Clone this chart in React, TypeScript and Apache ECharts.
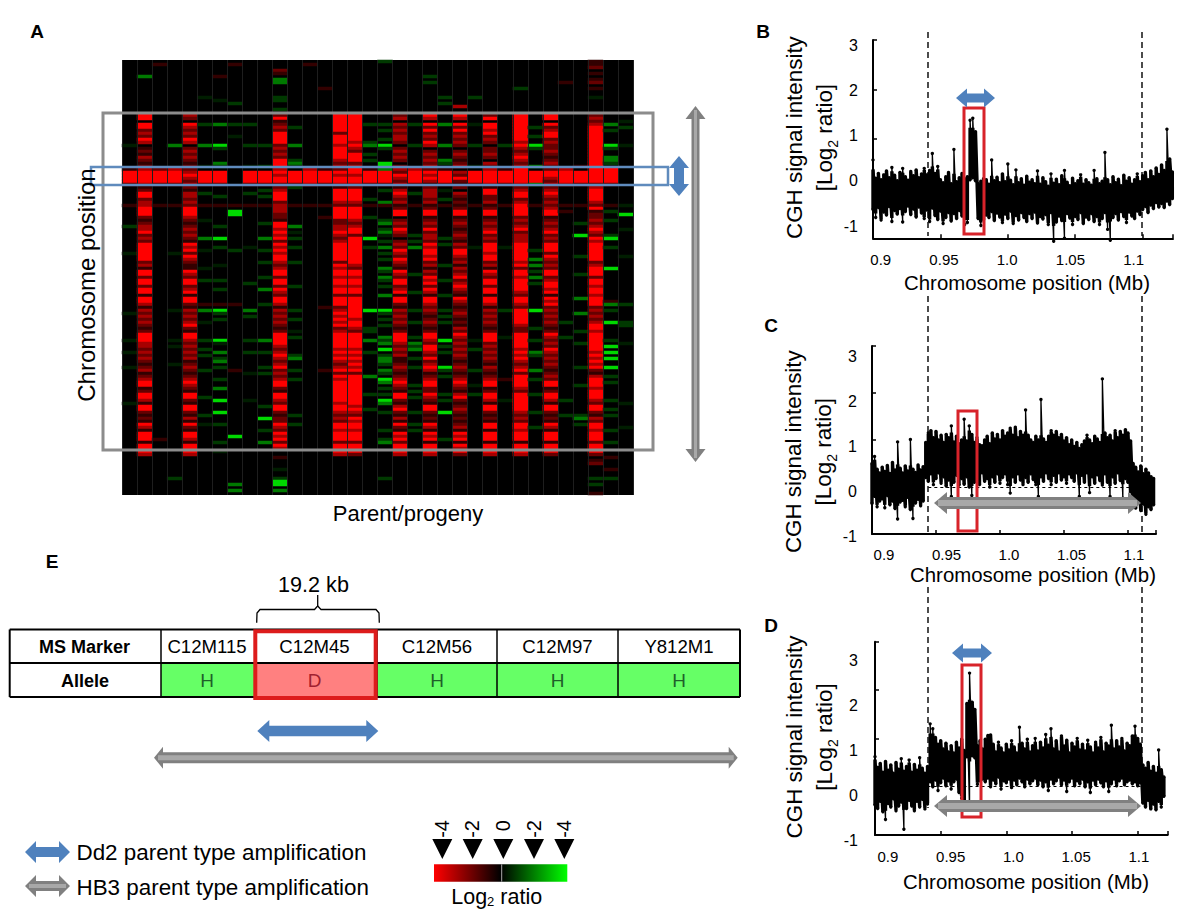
import React, { useEffect, useRef } from "react";
import * as echarts from "echarts";

// ---------- Panel A: one string per column, groups of ten rows, "." group = blank ----------
const heatLevels: Record<string, number> = { ".": 0, a: 0.8, b: 1.6, c: 2.6, R: 4, i: -0.45, g: -0.9, h: -1.9, G: -3.4 };
const heatColumns = [
  ". . ........i. ......aRRR Rb......a. .....g.... ....i..... . ....i..... ...i...i.. ..i....... ....i.....",
  ".....h.... ........RR .RRbcbRc.a bacbabcRRR RcabRRbccR RRbabccRbc bRRRRRRbca RRbRRbRRaR Rcacbcbcba bRRRccbcbc babcabcRRa bRRcaRRbab aRcaRRRaRR Rc........",
  ".a........ . . ......bRRR Rb......a. . . . . . . . ......a...",
  ". . ........h. ......cRRR Rb......a. . ....i..... . ...i...... ...i.i.... .i........ . . .........g",
  ". ........cb .RcbcbRc.b cbcbabbcRc bcbaccbcbR RRcbabcbcb aRcRbRcbaa RcbRRbcRaR RbacbcbcRb aRRcbcbcbc abcbabcRcb aRRbaRRbac aRbaRRcaRR Rc........",
  ". ..i....... .g......h. .....i.RRR Rb..g...a. ...i.....h ...i.....i ...g...... .a.h...i.. ...g..g.g. ...g...... ..g.....g. .i........",
  ".....a.... ...i...... .h......Gg ....hg.RRR Rb...g..a. .....g...G ..g.....i. ...g..g... .a.Gg.g... ...Gi..h.g h.g...g..h ...G...G.. .g.....g.. i.........",
  ".a........ ....g..... .g...i.... . ........a. GG........ ...g...... . .a........ . ...a...... . .....G.... . .h.h.",
  ". . .g......g. .....i.RRR Rb..g...a. . ..i....... ....g..... ...h.g.... ...g...g.. ....i..... ...i......",
  ". . ........g. .....g.RRR Rb.g.g..a. ....g....h ...g...g.. ..g...h... .g........ ...h...g.. ..g.g..... .....g...G ...g...h..",
  "...ba.hh.. ..gg..g.bR abcbRRRRbc bcbRRRcRcR RbbcRRRbcc cbbaRRcRcR bRcRcRRcbc RRbRRbRcbR Rcacbcbcba bRRRRcbcRc bcRbcbcRRb aRRcbRRbab bRcbRcRbRc ..a...i..g GG.h.",
  ". . ..g.....h. ...ghg.RRR Rbg.....a. .....h.i.g ..g....g.. .....g.... ...g..g... i.g.....gh ...g..g... ........g. .g........",
  ".a........ . . ......cRRR Rc......a.",
  ".........a . . ......aRRR Rb......a. ..a....... . . ..a....... . ...a......",
  ". ........RR RRRRbRRRcR RRRcbcbRcR RcaRRRRcbR RRRbbccRcb cRRRRRRbRc RRcRRcRRbR RRbcRcRcRb cRRRRRcRcR cbcRbRcRRR RRRRcRRcbc bRRcRRRbRR Rc........",
  ". ........RR RRRRRRRcRc bRRRbcRRcR RcbRRRRcbR RRRcbcRRbR RRRRRRRRcb RRcRRcRRbR RRRRRRcRRc bRRRRRcRcR cRcRbRRRRR RRRRRcRcbR cRRcRRRbRR Rb........",
  ". . .g.....gh. .g.g..aRRR Rb....g.a. ..g......G ..g....... . ...G.....g g..h...g.. .....h.... .g....g...",
  "g......... . .g.g..g.Gg ....GGhRRR Rb.g...ha. ...gh.ghi. g.h.g.g..h g.hg.g..h. ...Gg.g.g. ..hgh.G.gh hg.hg.Gh.g .g.Gh..g.. ...g..gh.. .........g",
  ". ........bc .cbcbccb.b cbcb.bcbRc bcacRcbcab RR.bcbRcb. bcbRcbRcba RcbRRbcRaR Rbacbcbcba bRRRcbcbca abcbabcRcb aRRbacRbac aRbaRcRbRR Rc........",
  ". . .g......g. ......cRRR Rb..g...a. ........g. g.h....... .g.....g.. ...g...g.. ..g.hgh..g ..g.....g. g.g....g.. .g.g......",
  ".....g.g.. ........Rc .RbRbcbRc. bcbcbcbRcR cabcccbcab RRabcbRbcc bRcRRcRbca cbRcRbRcaR Rcbcbabcba bRRcbRRcbR bcRcabcRRb bRcbaRRbab aRcaRcRaRR Rc........",
  ". ..g.g..... .h......h. ...hg.aRRR Rb.i..g.a. .........g .g......g. ...g....g. ...g.g.g.. ...G.g.g.. ..Gg.g.... .g.g...G.. ......g...",
  ". .....c..Rc .RbRbcbcb. bcbabc.cbR bab.cbabab RRabcbabcb acbRRcbcac bcRbcRcbaR cbabcbabac bRcbcbcbcb abcbabcRcb acRbabcbab abcaRcRaRc Rb........",
  ". ..g....... .i......g. .....i.RRR Rb......a. . ..i....... . . ...i..g... ...g....i. .g........",
  ". ........bR .RRcRbcb.b bcb.cbcRRR RcaRRbbcab RRabcbcRbc bRRRcRRbca RcbRRbRRaR Rcacbcbcba bRRRbcbcbc bacbabcRRa bRRcaRRbab aRRaRRRaRR Rc........",
  ". . ........g. ......aRRR Rb......a. . ..i....... . ...g...... ..i....... ......a... ...i......",
  ".........g ........RR RRRRRRRcRc bcRcbcRRRR RcbcRRbcRR RRbcbcRbcc cRRRRRRcRb RRcRRRRcbR RcbRRRRRcb bRRRRRcRcR cbcRbRRRRc bRRRRRRcbc bRRcRRRaRR Rc........",
  ". . ..g..g..Gg .....h.RRR Rh......a. . ...g..h.h. g.h.g..... ...G.....g ...g...hg. ...h..g... .g.....g.. ..g.......",
  ". ........RR .RbcRRbcbb cbabcbbRRc bcbcRcbcbc RRabcbcRbc bRRRbRcbcb RRbcRRcRaR cRbcbcbcba bRcbcbRcbc bcbabcbRRa bRRcaRRbab aRcaRRRaRR Rb........",
  ".......a.. . . ......cRRR Rc......a. a......... . . .......g.. ..g....... . ...g....g.",
  ". . . .....a.RRR Rb......a. ....g...G. .....g.... .g.......h ....h..... g...g..... ..g.....g. ........gh .g........",
  "aab.a.ab.a ..i.....bc bcRRRRRRRR RRRRRRRRRR RbcRRRRcbR abbcbcRcbR cRRRRRRbcR RRbRRcRRcR RRbcbcbcRR cRRRRRRcRc RcRbacRRRc RRRcbRRbac bRRcRRRbRR Rb.ab....g .g..a",
  ". . .h.g....Gg ..hhg.RRRR Rb......a. g..g....gG ..g......G . ah.g...G.. ...g.G.G.G ..G..g.g.. ...g..g.g. ...g...g.. ..a...a..g",
  ". . i.g.....i. . ........i. .G....i... .....i.... . .g.....gg. ....i..... . ....i..... ..i.......",
];

// ---------- Panels B, C, D: read upper and lower edge of the dense signal band ----------
const xTickLabels = ["0.9", "0.95", "1.0", "1.05", "1.1"];
const xTickValues = [0.9, 0.95, 1.0, 1.05, 1.1];
const yTickValues = [-1, 0, 1, 2, 3];

const panelBHigh = [
  0.58, 0.21, 0.31, 0.18, 0.28, 0.36, 0.22, 0.43, 0.27, 0.16, 0.33, 0.41, 0.24, 0.17, 0.35, 0.26, 0.38, 0.22, 0.3, 0.41,
  0.28, 0.37, 0.71, 0.31, 0.45, 0.18, 0.12, 0.24, 0.33, 0.1, 0.79, 0.14, 0.22, 0.31, 0.2, 0.24, 1.38, 1.42, 1.15, 0.1,
  0.15, 0.2, 0.18, 0.09, 0.58, 0.16, 0.23, 0.12, 0.3, 0.14, 0.5, 0.17, 0.08, 0.38, 0.12, 0.2, 0.07, 0.25, 0.13, 0.18,
  0.1, 0.36, 0.09, 0.22, 0.14, 0.05, 0.3, 0.11, 0.19, 0.08, 0.26, 0.37, 0.13, 0.06, 0.21, 0.1, 0.16, 0.28, 0.09, 0.18,
  0.12, 0.07, 0.37, 0.2, 0.1, 0.15, 0.73, 0.18, 0.08, 0.24, 0.12, 0.19, 0.06, 0.27, 0.15, 0.22, 0.09, 0.18, 0.3, 0.14,
  0.26, 0.33, 0.18, 0.36, 0.24, 0.42, 0.29, 0.48, 0.37, 1.2, 0.6, 0.34,
];
const panelBLow = [
  -0.42, -0.58, -0.38, -0.63, -0.47, -0.53, -0.36, -0.66, -0.44, -0.51, -0.4, -0.67, -0.46, -0.35, -0.52, -0.41, -0.57, -0.37, -0.49, -0.6,
  -0.43, -0.66, -0.39, -0.54, -0.62, -0.45, -0.7, -0.58, -0.48, -0.65, -0.5, -0.6, -0.44, -0.55, -0.72, -0.68, 0.18, 0.22, 0.16, -0.6,
  -0.74, -0.62, -0.53, -0.58, -0.46, -0.64, -0.49, -0.57, -0.68, -0.51, -0.6, -0.45, -0.7, -0.54, -0.63, -0.48, -0.58, -0.66, -0.5, -0.6,
  -0.47, -0.69, -0.56, -0.61, -0.52, -0.72, -0.48, -1.06, -0.67, -0.55, -0.64, -1.0, -0.5, -0.59, -0.72, -0.56, -0.62, -0.48, -0.7, -0.57,
  -0.62, -0.5, -0.66, -0.56, -0.72, -0.6, -0.48, -0.82, -1.04, -0.58, -0.5, -0.63, -0.46, -0.56, -0.68, -0.47, -0.55, -0.6, -0.45, -0.52,
  -0.42, -0.36, -0.48, -0.33, -0.4, -0.28, -0.37, -0.3, -0.38, -0.25, -0.32, -0.2,
];
const panelCHigh = [
  0.5, 0.65, 0.38, 0.3, 0.42, 0.33, 0.46, 0.29, 0.52, 0.36, 0.96, 0.4, 0.3, 0.45, 0.34, 1.01, 0.38, 0.31, 0.47, 0.36,
  0.43, 0.95, 1.15, 1.2, 1.05, 1.18, 1.0, 1.1, 0.95, 1.12, 1.05, 1.3, 0.96, 1.08, 0.92, 1.0, 1.44, 0.98, 1.3, 1.12,
  0.95, 1.05, 0.9, 0.88, 1.0, 1.08, 0.92, 1.15, 1.02, 1.12, 1.0, 1.2, 1.08, 1.15, 1.25, 1.1, 1.27, 1.05, 1.18, 1.1,
  1.64, 1.1, 1.0, 0.95, 1.08, 1.0, 1.86, 1.02, 0.95, 1.08, 1.2, 1.1, 1.18, 1.05, 1.12, 0.98, 1.05, 0.9, 1.0, 0.86,
  0.95, 0.82, 0.9, 0.98, 1.1, 1.0, 0.92, 1.08, 1.02, 0.95, 2.3, 1.15, 1.05, 1.1, 0.98, 1.2, 1.05, 1.18, 1.1, 1.22,
  1.15, 0.98, 0.5, 0.42, 0.32, 0.45, 0.28, 0.38, 0.3, 0.22, 0.18,
];
const panelCLow = [
  -0.35, -0.2, -0.42, -0.3, -0.25, -0.44, -0.18, -0.38, -0.3, -0.46, -0.68, -0.32, -0.28, -0.42, -0.22, -0.48, -0.67, -0.34, -0.26, -0.4,
  -0.3, 0.2, 0.12, 0.28, 0.05, 0.18, 0.3, 0.08, 0.22, 0.02, 0.15, -0.2, 0.1, 0.25, 0.04, 0.18, 0.06, 0.22, 0.0, -0.18,
  0.1, 0.25, 0.05, 0.3, 0.12, 0.18, 0.0, 0.22, 0.1, 0.28, 0.08, 0.2, 0.28, 0.05, -0.13, 0.22, 0.1, 0.28, 0.15, 0.05,
  0.2, 0.1, 0.28, 0.16, 0.05, -0.2, 0.22, 0.12, 0.3, 0.18, 0.05, 0.25, 0.1, 0.3, 0.15, 0.22, 0.08, 0.28, 0.2, 0.12,
  0.3, -0.2, 0.25, 0.1, 0.3, -0.12, 0.22, 0.08, 0.26, 0.14, 0.04, 0.28, 0.1, -0.2, 0.22, 0.08, 0.3, 0.14, -0.24, 0.18,
  0.1, -0.1, -0.38, -0.45, -0.3, -0.5, -0.36, -0.58, -0.42, -0.48, -0.38,
];
const panelDHigh = [
  0.62, 0.4, 0.48, 0.3, 0.52, 0.34, 0.45, 0.28, 0.5, 0.36, 0.58, 0.32, 0.42, 0.55, 0.3, 0.46, 0.34, 0.6, 0.38, 0.28,
  0.42, 1.3, 1.2, 1.02, 0.88, 0.95, 0.78, 0.9, 0.72, 0.85, 0.7, 0.92, 0.8, 0.98, 0.75, 1.72, 2.35, 1.75, 1.6, 0.85,
  0.95, 0.78, 0.98, 1.06, 1.07, 0.88, 0.72, 0.92, 0.8, 0.7, 0.88, 0.76, 0.95, 0.82, 0.7, 1.23, 0.9, 0.78, 0.98, 0.72,
  0.85, 1.0, 0.74, 0.92, 0.8, 1.08, 0.86, 1.2, 0.78, 0.95, 0.72, 1.05, 0.84, 0.96, 0.7, 0.9, 0.82, 1.0, 0.76, 0.88,
  0.74, 0.96, 0.82, 0.7, 0.92, 0.8, 1.02, 0.72, 0.9, 0.84, 1.27, 0.78, 0.95, 0.82, 1.0, 0.74, 0.9, 0.85, 1.05, 1.25,
  1.0, 0.88, 0.45, 0.38, 0.5, 0.32, 0.42, 0.28, 0.76, 0.35, 0.2,
];
const panelDLow = [
  -0.38, -0.45, -0.3, -0.52, -0.68, -0.35, -0.42, -0.25, -0.5, -0.4, -0.32, -0.88, -0.45, -0.28, -0.4, -0.5, -0.3, -0.42, -0.26, -0.46,
  -0.36, 0.1, 0.0, 0.14, -0.08, 0.08, 0.18, 0.02, 0.12, -0.05, 0.1, 0.16, -0.12, -0.24, -0.3, 0.62, -0.48, 0.64, 0.6, 0.05,
  0.12, 0.16, 0.1, 0.18, 0.0, 0.14, 0.06, 0.2, -0.05, 0.12, 0.08, 0.16, -0.02, 0.14, 0.04, 0.18, 0.1, 0.0, 0.16, 0.06,
  0.12, 0.18, 0.04, 0.14, 0.0, 0.1, -0.08, 0.16, 0.06, 0.12, 0.2, 0.04, 0.14, -0.1, 0.1, 0.18, 0.02, 0.12, 0.06, 0.16,
  0.0, 0.1, -0.12, 0.14, 0.04, 0.16, 0.08, 0.0, 0.12, -0.1, 0.06, 0.16, 0.02, 0.12, 0.18, 0.04, 0.1, 0.14, 0.06, 0.1,
  0.02, 0.08, -0.34, -0.42, -0.28, -0.46, -0.36, -0.48, -0.3, -0.42, -0.2,
];

// ---------- Panel E ----------
const markerNames = ["C12M115", "C12M45", "C12M56", "C12M97", "Y812M1"];
const alleleCalls = ["H", "D", "H", "H", "H"];
const scaleLabels = ["-4", "-2", "0", "-2", "-4"];

const FONT = '"Liberation Sans", Arial, sans-serif';
const ROW_COUNT = 145;
const SAMPLE_START = 0.9;
const SAMPLE_STEP = 0.002;

function heatCells() {
  const cells: number[][] = [];
  heatColumns.forEach((col, c) => {
    col.split(" ").forEach((group, g) => {
      [...group].forEach((ch, k) => {
        const v = heatLevels[ch];
        if (v) cells.push([c, g * 10 + k, v]);
      });
    });
  });
  return cells;
}

function band(hi: number[], lo: number[]) {
  const pts: number[][] = [];
  hi.forEach((h, i) => {
    const x = +(SAMPLE_START + i * SAMPLE_STEP).toFixed(3);
    pts.push([x, lo[i]], [x, h]);
  });
  return pts;
}
// The thick body of the band leaves isolated spikes to the thin line drawn over it.
function median5(a: number[], i: number) {
  const w = a.slice(Math.max(0, i - 2), i + 3).sort((p, q) => p - q);
  return w[Math.floor(w.length / 2)];
}
function core(hi: number[], lo: number[]) {
  return band(hi.map((v, i) => Math.min(v, median5(hi, i) + 0.08)), lo.map((v, i) => Math.max(v, median5(lo, i) - 0.08)));
}

function hArrow(x1: number, x2: number, y: number, shaft: number, headH: number, headL: number, fill: string, stripe?: string) {
  const s = shaft / 2, h = headH / 2;
  const out: any[] = [{
    type: "polygon", z: 100,
    shape: { points: [[x1, y], [x1 + headL, y - h], [x1 + headL, y - s], [x2 - headL, y - s], [x2 - headL, y - h], [x2, y], [x2 - headL, y + h], [x2 - headL, y + s], [x1 + headL, y + s], [x1 + headL, y + h]] },
    style: { fill },
  }];
  if (stripe) out.push({ type: "rect", z: 101, shape: { x: x1 + 4, y: y - s + 3, width: x2 - x1 - 8, height: shaft - 6 }, style: { fill: stripe } });
  return out;
}
function vArrow(x: number, y1: number, y2: number, shaft: number, headW: number, headL: number, fill: string, stripe?: string) {
  const s = shaft / 2, h = headW / 2;
  const out: any[] = [{
    type: "polygon", z: 100,
    shape: { points: [[x, y1], [x + h, y1 + headL], [x + s, y1 + headL], [x + s, y2 - headL], [x + h, y2 - headL], [x, y2], [x - h, y2 - headL], [x - s, y2 - headL], [x - s, y1 + headL], [x - h, y1 + headL]] },
    style: { fill },
  }];
  if (stripe) out.push({ type: "rect", z: 101, shape: { x: x - s + 2.5, y: y1 + 4, width: shaft - 5, height: y2 - y1 - 8 }, style: { fill: stripe } });
  return out;
}
function label(text: string, x: number, y: number, size: number, extra: any = {}, styleExtra: any = {}) {
  return { type: "text", z: 110, x, y, ...extra, style: { text, font: `${size}px ${FONT}`, fill: "#000", textAlign: "center", textVerticalAlign: "middle", ...styleExtra } };
}
function bold(text: string, x: number, y: number, size: number) {
  return label(text, x, y, size, {}, { font: `bold ${size}px ${FONT}` });
}
function rectOutline(x: number, y: number, width: number, height: number, stroke: string, lineWidth: number) {
  return { type: "rect", z: 100, shape: { x, y, width, height }, style: { fill: "none", stroke, lineWidth } };
}
function dashed(x: number, y1: number, y2: number) {
  return { type: "line", z: 90, shape: { x1: x, y1, x2: x, y2 }, style: { stroke: "#000", lineWidth: 1.4, lineDash: [6, 4] } };
}

const GRAY = "#808080", GRAY_LIGHT = "#a8a8a8", BLUE = "#4f81bd", RED = "#d8232a";

function buildGraphics() {
  const g: any[] = [];
  // panel letters
  g.push(bold("A", 37, 31, 19), bold("B", 763, 31, 19), bold("C", 771, 325, 19), bold("D", 771, 625, 19), bold("E", 52, 561, 19));

  // panel A
  g.push(rectOutline(103, 113, 550, 337, "#8c8c8c", 3));
  g.push(rectOutline(91, 167, 577, 18, "#5f8bbd", 2.5));
  g.push(...vArrow(679, 156, 196, 10, 20, 12, BLUE));
  g.push(...vArrow(695.5, 106, 462, 8, 20, 13, GRAY, GRAY_LIGHT));
  g.push(label("Chromosome position", 86, 285, 24, { rotation: Math.PI / 2 }));
  g.push(label("Parent/progeny", 408, 513, 22));

  // dashed boundaries
  for (const x of [928, 1142]) g.push(dashed(x, 32, 236), dashed(x, 296, 533));
  g.push(dashed(928, 587, 808), dashed(1142, 587, 786));

  // panel B-D annotations
  g.push(rectOutline(964, 108, 20, 126, RED, 3));
  g.push(...hArrow(956, 995, 98, 9, 19, 11, BLUE));
  g.push(rectOutline(958, 411, 19, 120, RED, 3));
  g.push(...hArrow(934, 1141, 503, 12, 22, 13, GRAY, GRAY_LIGHT));
  g.push(rectOutline(962, 665, 19, 152, RED, 3));
  g.push(...hArrow(952, 992, 653, 9, 19, 11, BLUE));
  g.push(...hArrow(934, 1141, 806, 12, 22, 13, GRAY, GRAY_LIGHT));

  // panel E table
  const cols = [9.7, 161, 255, 377, 497, 618, 740];
  const rows = [629.5, 663, 697];
  ["#66ff66", "#ff8080", "#66ff66", "#66ff66", "#66ff66"].forEach((fill, i) => {
    g.push({ type: "rect", z: 60, shape: { x: cols[i + 1], y: rows[1], width: cols[i + 2] - cols[i + 1], height: rows[2] - rows[1] }, style: { fill } });
  });
  rows.forEach((y) => g.push({ type: "line", z: 70, shape: { x1: cols[0], y1: y, x2: cols[6], y2: y }, style: { stroke: "#000", lineWidth: 2 } }));
  cols.forEach((x) => g.push({ type: "line", z: 70, shape: { x1: x, y1: rows[0], x2: x, y2: rows[2] }, style: { stroke: "#000", lineWidth: x === 9.7 || x === 740 ? 2 : 1.5 } }));
  g.push(rectOutline(255.3, 631.3, 120.4, 66.7, "#dd1c1c", 4));
  g.push(bold("MS Marker", 84.5, 646.5, 18), bold("Allele", 85, 680.5, 18));
  markerNames.forEach((m, i) => {
    const cx = [207, 314.5, 437, 557.5, 679][i];
    g.push(label(m, cx, 646.5, 18.6));
    g.push(label(alleleCalls[i], cx, 680.7, 19, {}, { fill: alleleCalls[i] === "D" ? "#a02030" : "#1f5f2a" }));
  });
  g.push(label("19.2 kb", 313.5, 584, 21.6));
  g.push({ type: "polyline", z: 100, shape: { points: [[256.7, 622.7], [257, 613], [260, 609.5], [314.5, 609.5], [317.7, 606], [317.7, 595]] }, style: { stroke: "#000", lineWidth: 1.3, fill: "none" } });
  g.push({ type: "polyline", z: 100, shape: { points: [[379.3, 622.7], [379, 613], [376, 609.5], [321, 609.5], [317.7, 606]] }, style: { stroke: "#000", lineWidth: 1.3, fill: "none" } });
  g.push(...hArrow(257.3, 378.3, 731, 10.5, 22, 12, BLUE));
  g.push(...hArrow(154, 737.7, 757.7, 11, 22, 9, GRAY, GRAY_LIGHT));

  // legend
  g.push(...hArrow(25, 70, 852, 10, 22, 11, BLUE));
  g.push(...hArrow(25, 70, 886, 10, 22, 11, GRAY, GRAY_LIGHT));
  g.push(label("Dd2 parent type amplification", 76.5, 852, 22.4, {}, { textAlign: "left" }));
  g.push(label("HB3 parent type amplification", 76.5, 887, 22.4, {}, { textAlign: "left" }));

  // colour scale
  g.push({
    type: "rect", z: 100, shape: { x: 434, y: 864.3, width: 133.3, height: 17.4 },
    style: { fill: new echarts.graphic.LinearGradient(0, 0, 1, 0, [{ offset: 0, color: "#ff0000" }, { offset: 0.5, color: "#000000" }, { offset: 1, color: "#00ff00" }]) },
  });
  g.push({ type: "line", z: 101, shape: { x1: 501.7, y1: 864.3, x2: 501.7, y2: 881.7 }, style: { stroke: "#aaa", lineWidth: 1 } });
  [442.3, 472.7, 503.3, 534, 564.3].forEach((x, i) => {
    g.push({ type: "polygon", z: 100, shape: { points: [[x - 10, 839], [x + 10, 839], [x, 859]] }, style: { fill: "#000" } });
    g.push(label(scaleLabels[i], x - 0.5, 820, 20, { rotation: Math.PI / 2 }, { textAlign: "right" }));
  });
  g.push({
    type: "text", z: 110, x: 496.7, y: 897,
    style: {
      text: "{a|Log}{s|2}{a| ratio}", textAlign: "center", textVerticalAlign: "middle",
      rich: {
        a: { font: `21.5px ${FONT}`, fill: "#000" },
        s: { font: `13px ${FONT}`, fill: "#000", verticalAlign: "bottom", padding: [8, 0, 0, 0] },
      },
    },
  });
  return g;
}

interface Panel {
  hi: number[]; lo: number[];
  main: { left: number; top: number; width: number; height: number; xMax: number };
  lab: { left: number; right: number; xMin: number; xMax: number; top: number; height: number; yMin: number; yMax: number; xMargin: number; yMargin: number; nameGapX: number; nameGapY: number };
  baseline?: [number, number];
}

const panels: Panel[] = [
  {
    hi: panelBHigh, lo: panelBLow,
    main: { left: 873, top: 40, width: 300, height: 198.3, xMax: 1.1225 },
    lab: { left: 873, right: 1181, xMin: 0.8939, xMax: 1.1374, top: 29, height: 217.2, yMin: -1.441, yMax: 3.359, xMargin: 6, yMargin: 15, nameGapX: 27, nameGapY: 27.5 },
  },
  {
    hi: panelCHigh, lo: panelCLow,
    main: { left: 872, top: 346, width: 284, height: 188, xMax: 1.1219 },
    lab: { left: 872, right: 1194, xMin: 0.8904, xMax: 1.148, top: 343.7, height: 216, yMin: -1.511, yMax: 3.289, xMargin: -12.7, yMargin: 15, nameGapX: 5, nameGapY: 26.5 },
    baseline: [0.944, 1.1215],
  },
  {
    hi: panelDHigh, lo: panelDLow,
    main: { left: 875, top: 641.7, width: 292.7, height: 193.3, xMax: 1.1229 },
    lab: { left: 875, right: 1177, xMin: 0.8897, xMax: 1.1304, top: 629, height: 216, yMin: -1.111, yMax: 3.689, xMargin: 4, yMargin: 17, nameGapX: 26.7, nameGapY: 29.5 },
    baseline: [0.94, 1.1225],
  },
];

function buildOption() {
  const grid: any[] = [{ left: 122, top: 60, width: 511, height: 435, show: true, backgroundColor: "#000", borderWidth: 0 }];
  const xAxis: any[] = [{
    type: "category", gridIndex: 0, z: 5, data: heatColumns.map((_, i) => String(i + 1)),
    axisLine: { show: false }, axisTick: { show: false }, axisLabel: { show: false },
    splitLine: { show: true, interval: 0, lineStyle: { color: "#1e1e1e", width: 1 } },
  }];
  const yAxis: any[] = [{
    type: "category", gridIndex: 0, inverse: true, data: Array.from({ length: ROW_COUNT }, (_, i) => String(i)),
    axisLine: { show: false }, axisTick: { show: false }, axisLabel: { show: false }, splitLine: { show: false },
  }];
  const series: any[] = [{
    type: "heatmap", xAxisIndex: 0, yAxisIndex: 0, data: heatCells(), silent: true, progressive: 0,
    itemStyle: { borderWidth: 0 },
  }];

  const axisLine = { show: true, onZero: false, lineStyle: { color: "#000", width: 2 } };
  panels.forEach((p) => {
    const idx = grid.length;
    grid.push({ left: p.main.left, top: p.main.top, width: p.main.width, height: p.main.height });
    xAxis.push({
      type: "value", gridIndex: idx, min: 0.9, max: p.main.xMax, interval: 0.05,
      axisLine, axisTick: { show: true, inside: true, length: 4, lineStyle: { color: "#000", width: 1.5 } },
      axisLabel: { show: false }, splitLine: { show: false },
    });
    yAxis.push({
      type: "value", gridIndex: idx, min: -1, max: 3, interval: 1,
      axisLine, axisTick: { show: true, inside: true, length: 4, lineStyle: { color: "#000", width: 1.5 } },
      axisLabel: { show: false }, splitLine: { show: false },
    });
    series.push({
      type: "line", xAxisIndex: idx, yAxisIndex: idx, data: core(p.hi, p.lo), silent: true,
      showSymbol: false, symbol: "none", clip: false,
      lineStyle: { color: "#000", width: 3.4 },
      markLine: p.baseline ? {
        silent: true, symbol: "none", label: { show: false },
        lineStyle: { color: "#000", type: [3, 3], width: 1.2 },
        data: [[{ coord: [p.baseline[0], 0] }, { coord: [p.baseline[1], 0] }]],
      } : undefined,
    });
    series.push({
      type: "line", xAxisIndex: idx, yAxisIndex: idx, data: band(p.hi, p.lo), silent: true,
      symbol: "circle", symbolSize: 3.4, showSymbol: true, showAllSymbol: true, clip: false,
      lineStyle: { color: "#000", width: 1.3 }, itemStyle: { color: "#000" },
    });

    const lab = p.lab;
    const li = grid.length;
    grid.push({ left: lab.left, top: lab.top, width: lab.right - lab.left, height: lab.height });
    xAxis.push({
      type: "value", gridIndex: li, min: lab.xMin, max: lab.xMax, position: "bottom",
      axisLine: { show: false }, axisTick: { show: false }, splitLine: { show: false },
      axisLabel: {
        show: true, margin: lab.xMargin, fontSize: 15, fontFamily: FONT, color: "#000", customValues: xTickValues,
        formatter: (v: number) => xTickLabels[xTickValues.findIndex((t) => Math.abs(t - v) < 1e-6)] ?? "",
      },
      name: "Chromosome position (Mb)", nameLocation: "middle", nameGap: lab.nameGapX,
      nameTextStyle: { fontSize: 20.4, fontFamily: FONT, color: "#000" },
    });
    yAxis.push({
      type: "value", gridIndex: li, min: lab.yMin, max: lab.yMax, position: "left",
      axisLine: { show: false }, axisTick: { show: false }, splitLine: { show: false },
      axisLabel: { show: true, margin: lab.yMargin, fontSize: 16, fontFamily: FONT, color: "#000", customValues: yTickValues },
      name: "{n|CGH signal intensity}\n{n|[Log}{s|2}{n| ratio]}", nameLocation: "middle", nameGap: lab.nameGapY,
      nameTextStyle: {
        color: "#000", fontFamily: FONT, lineHeight: 30,
        rich: {
          n: { fontSize: 22.4, fontFamily: FONT, color: "#000", lineHeight: 30 },
          s: { fontSize: 14, fontFamily: FONT, color: "#000", lineHeight: 30, verticalAlign: "bottom", padding: [8, 0, 0, 0] },
        },
      },
    });
    series.push({ type: "line", xAxisIndex: li, yAxisIndex: li, data: [], silent: true, showSymbol: false });
  });

  return {
    animation: false,
    backgroundColor: "#fff",
    textStyle: { fontFamily: FONT },
    visualMap: {
      show: false, type: "continuous", seriesIndex: 0, min: -4, max: 4, dimension: 2,
      inRange: { color: ["#00ff00", "#000000", "#ff0000"] },
    },
    grid, xAxis, yAxis, series,
    graphic: { elements: buildGraphics() },
  };
}

export default function App() {
  const ref = useRef<HTMLDivElement>(null);
  useEffect(() => {
    if (!ref.current) return;
    const chart = echarts.init(ref.current, undefined, { renderer: "svg" });
    chart.setOption(buildOption() as any);
    return () => chart.dispose();
  }, []);
  return <div ref={ref} style={{ position: "fixed", left: 0, top: 0, width: 1200, height: 917, background: "#fff" }} />;
}
